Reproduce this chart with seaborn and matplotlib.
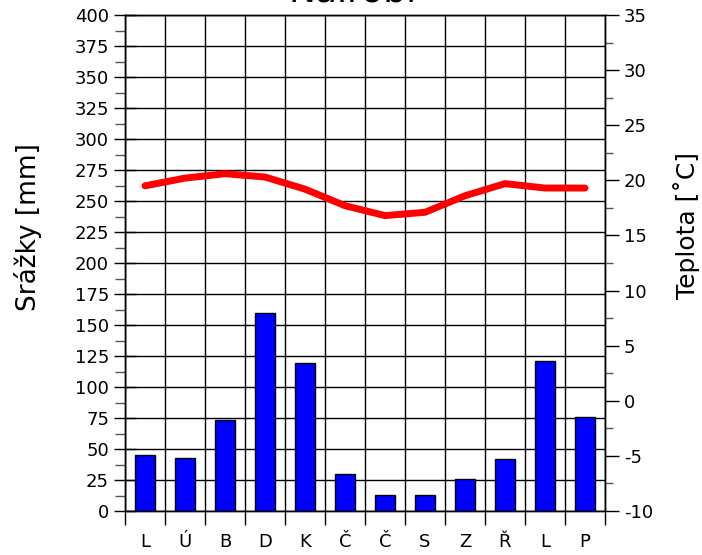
import numpy as np
import pandas as pd
import matplotlib
matplotlib.use("Agg")
import matplotlib.pyplot as plt
import seaborn as sns
from matplotlib.ticker import MultipleLocator, FixedLocator, NullFormatter

months = ["L", "Ú", "B", "D", "K", "Č", "Č", "S", "Z", "Ř", "L", "P"]
precip = [45, 43, 73, 160, 119, 30, 13, 13, 26, 42, 121, 76]
temp = [19.5, 20.2, 20.6, 20.3, 19.2, 17.7, 16.8, 17.1, 18.6, 19.7, 19.3, 19.3]
title = "Nairobi"

sns.set_style("white")
plt.rcParams["font.family"] = ["DejaVu Sans"]
plt.rcParams["axes.unicode_minus"] = False
plt.rcParams["text.color"] = "black"
plt.rcParams["axes.labelcolor"] = "black"
plt.rcParams["xtick.color"] = "black"
plt.rcParams["ytick.color"] = "black"

idx = list(range(len(months)))
df = pd.DataFrame({"i": idx, "month": months, "precip": precip, "temp": temp})

fig = plt.figure(figsize=(7.02, 5.55), dpi=100)
ax = fig.add_axes([125/702, 1 - 511/555, 480/702, 496/555])

sns.barplot(data=df, x="i", y="precip", native_scale=True, width=0.5,
            color="#0000ff", saturation=1, edgecolor="black", linewidth=1,
            ax=ax, zorder=3)
ax.set_xlim(-0.5, 11.5)
ax.set_ylim(0, 400)

# grid
ax.set_axisbelow(True)
ax.yaxis.set_major_locator(MultipleLocator(25))
ax.yaxis.set_minor_locator(MultipleLocator(12.5))
ax.xaxis.set_major_locator(FixedLocator(np.arange(-0.5, 12, 1)))
ax.xaxis.set_major_formatter(NullFormatter())
ax.xaxis.set_minor_locator(FixedLocator(idx))
ax.set_xticklabels(months, minor=True)
ax.grid(True, which="major", color="black", linewidth=1)
ax.tick_params(axis="x", which="major", direction="out", length=10, width=1, color="black", bottom=True)
ax.tick_params(axis="x", which="minor", length=0, labelsize=13, pad=16, labelcolor="black")
ax.tick_params(axis="y", which="major", direction="inout", length=16, width=1, color="black", labelsize=13, left=True, labelcolor="black")
ax.tick_params(axis="y", which="minor", direction="out", length=7, width=1, color="#555555", left=True)
ax.set_xlabel("")
ax.set_ylabel("Srážky [mm]", fontsize=19, color="black")
ax.yaxis.set_label_coords(-0.173, 0.573)
for s in ax.spines.values():
    s.set_color("black")
    s.set_linewidth(1)

ax2 = ax.twinx()
sns.lineplot(data=df, x="i", y="temp", color="#ff0000", linewidth=5, ax=ax2, zorder=4)
ax2.set_ylim(-10, 35)
ax2.set_xlim(-0.5, 11.5)
ax2.yaxis.set_major_locator(MultipleLocator(5))
ax2.yaxis.set_minor_locator(MultipleLocator(2.5))
ax2.tick_params(axis="y", which="major", direction="out", length=10, width=1, color="black", labelsize=13, right=True, labelcolor="black")
ax2.tick_params(axis="y", which="minor", direction="out", length=6, width=1, color="#555555", right=True)
ax2.set_ylabel("Teplota [˚C]", fontsize=18, color="black")
ax2.yaxis.set_label_coords(1.142, 0.575)
ax2.grid(False)
for s in ax2.spines.values():
    s.set_color("black")
    s.set_linewidth(1)

fig.text(0.5 + 2/702, 1 - 2/555, title, ha="center", va="baseline", fontsize=26, color="black")

fig.savefig("out.png", dpi=100)
